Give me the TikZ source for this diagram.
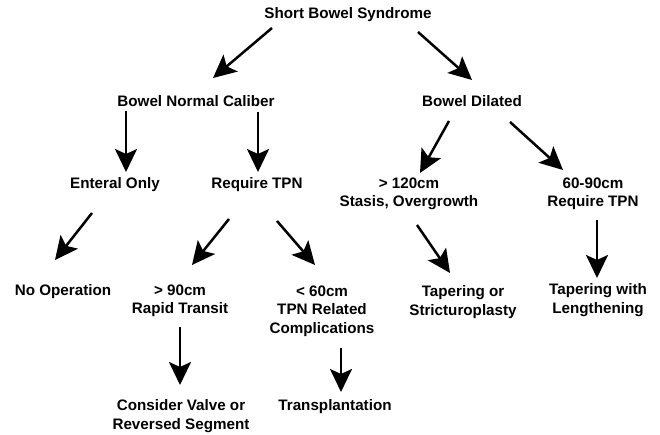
\documentclass[tikz,border=0pt]{standalone}
\usepackage{fontspec}
\setmainfont{Liberation Sans}
\usetikzlibrary{arrows.meta}
\begin{document}
\begin{tikzpicture}[x=1pt,y=-1pt,
  lbl/.style={inner sep=0pt,align=center,font=\fontsize{15.2}{18.5}\selectfont\bfseries},
  arr/.style={line width=2.5pt,-{Stealth[length=23pt,width=22pt,inset=5pt]}}]
\useasboundingbox (0,0) rectangle (660,435);
\node[lbl] (sbs) at (348,15) {Short Bowel Syndrome};
\node[lbl] (bnc) at (196,101) {Bowel Normal Caliber};
\node[lbl] (bd) at (472,101) {Bowel Dilated};
\node[lbl] (eo) at (115,185) {Enteral Only};
\node[lbl] (rtpn) at (257,185) {Require TPN};
\node[lbl] (s120) at (409,194) {> 120cm\\Stasis, Overgrowth};
\node[lbl] (s6090) at (593,194) {60-90cm\\Require TPN};
\node[lbl] (noop) at (63,292) {No Operation};
\node[lbl] (r90) at (180,301) {> 90cm\\Rapid Transit};
\node[lbl] (l60) at (322,311) {< 60cm\\TPN Related\\Complications};
\node[lbl] (tap) at (463,302) {Tapering or\\Stricturoplasty};
\node[lbl] (tapw) at (598,300) {Tapering with\\Lengthening};
\node[lbl] (cons) at (181,416) {Consider Valve or\\Reversed Segment};
\node[lbl] (trans) at (335,407) {Transplantation};
\draw[arr] ([shift={(-76,13)}]sbs.center) -- ([shift={(17,-23)}]bnc.center);
\draw[arr] ([shift={(70,17)}]sbs.center) -- ([shift={(0,-21)}]bd.center);
\draw[arr] ([shift={(-70,10)}]bnc.center) -- ([shift={(11,-13)}]eo.center);
\draw[arr] ([shift={(62,11)}]bnc.center) -- ([shift={(1,-13)}]rtpn.center);
\draw[arr] ([shift={(-23,20)}]bd.center) -- ([shift={(11,-21)}]s120.center);
\draw[arr] ([shift={(38,21)}]bd.center) -- ([shift={(-30,-24)}]s6090.center);
\draw[arr] ([shift={(-23,28)}]eo.center) -- ([shift={(-8,-32)}]noop.center);
\draw[arr] ([shift={(-28,34)}]rtpn.center) -- ([shift={(12,-36)}]r90.center);
\draw[arr] ([shift={(20,36)}]rtpn.center) -- ([shift={(-7,-46)}]l60.center);
\draw[arr] ([shift={(8,31)}]s120.center) -- ([shift={(-13,-29)}]tap.center);
\draw[arr] ([shift={(4,26)}]s6090.center) -- ([shift={(-1,-22)}]tapw.center);
\draw[arr] ([shift={(0,26)}]r90.center) -- ([shift={(-1,-31)}]cons.center);
\draw[arr] ([shift={(19,37)}]l60.center) -- ([shift={(6,-15)}]trans.center);
\end{tikzpicture}
\end{document}
